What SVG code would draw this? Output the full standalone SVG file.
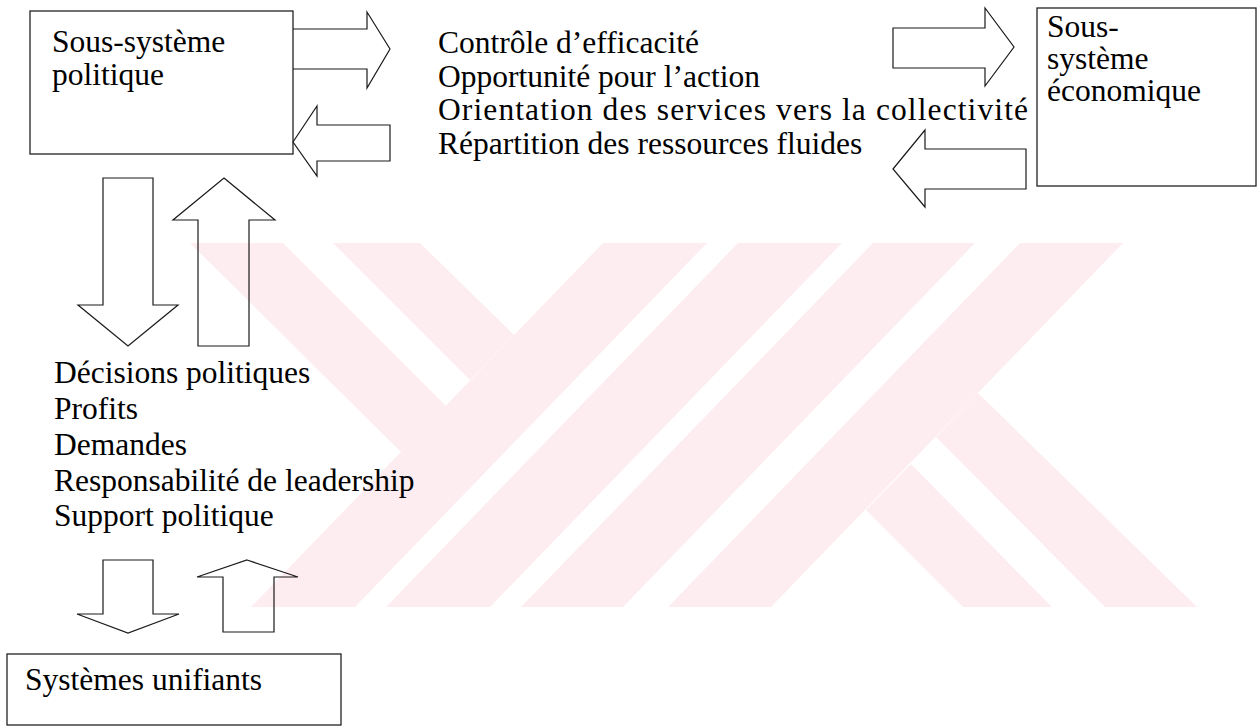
<svg xmlns="http://www.w3.org/2000/svg" width="1258" height="727" viewBox="0 0 1258 727" font-family="Liberation Serif, Tinos, Times New Roman, serif">
  <style>
    .box { fill: none; stroke: #222; stroke-width: 1.3; }
    .arrow { fill: none; stroke: #1a1a1a; stroke-width: 1.2; stroke-linejoin: miter; }
    .wm { fill: #fdedf0; stroke: none; }
  </style>

  <rect x="0" y="0" width="1258" height="727" fill="#ffffff"/>

  <g id="emblem">
    <polygon class="wm" points="190,243 283,243 446,406 401,452"/>
    <polygon class="wm" points="333,243 420,243 514,335 470,380"/>
    <polygon class="wm" points="603,243 707,243 355,607 251,607"/>
    <polygon class="wm" points="738,243 842,243 490,607 386,607"/>
    <polygon class="wm" points="873,243 975,243 623,607 521,607"/>
    <polygon class="wm" points="1020,243 1123,243 771,607 668,607"/>
    <polygon class="wm" points="978,393 1197,607 1105,607 936,437"/>
    <polygon class="wm" points="911,464 1052,607 963,607 866,510"/>
  </g>

  <g id="connectors">
    <path class="arrow" d="M293,29 H367 V12 L390,49 L367,88 V69 H293"/>
    <path class="arrow" d="M293,142 L317,106 V125 H390 V161 H317 V176 Z"/>
    <path class="arrow" d="M893,28 H985 V8 L1014,47 L985,86 V68 H893 Z"/>
    <path class="arrow" d="M893,169 L925,130 V149 H1026 V189 H925 V207 Z"/>
    <path class="arrow" d="M103,178 H153 V305 H178 L128,346 L78,305 H103 Z"/>
    <path class="arrow" d="M224,178 L275,220 H249 V346 H198 V220 H173 Z"/>
    <path class="arrow" d="M103,560 H153 V614 H179 L128,633 L77,614 H103 Z"/>
    <path class="arrow" d="M247,560 L298,577 H274 V632 H223 V577 H197 Z"/>
  </g>

  <g id="node-politique">
    <rect class="box" x="30" y="11" width="263" height="143"/>
    <text font-family="Liberation Serif, Tinos, Times New Roman, serif" font-size="31.5" x="52" y="52">Sous-système</text>
    <text font-family="Liberation Serif, Tinos, Times New Roman, serif" font-size="31.5" x="52" y="85">politique</text>
  </g>

  <g id="node-economique">
    <rect class="box" x="1037" y="8" width="219" height="178"/>
    <text font-family="Liberation Serif, Tinos, Times New Roman, serif" font-size="31.5" x="1047" y="37">Sous-</text>
    <text font-family="Liberation Serif, Tinos, Times New Roman, serif" font-size="31.5" x="1047" y="69">système</text>
    <text font-family="Liberation Serif, Tinos, Times New Roman, serif" font-size="31.5" x="1047" y="101">économique</text>
  </g>

  <g id="node-unifiants">
    <rect class="box" x="7" y="654" width="334" height="71"/>
    <text font-family="Liberation Serif, Tinos, Times New Roman, serif" font-size="31.5" x="25" y="690">Systèmes unifiants</text>
  </g>

  <g id="exchanges-economique">
    <text font-family="Liberation Serif, Tinos, Times New Roman, serif" font-size="31.5" x="438" y="53">Contrôle d’efficacité</text>
    <text font-family="Liberation Serif, Tinos, Times New Roman, serif" font-size="31.5" x="438" y="87">Opportunité pour l’action</text>
    <text font-family="Liberation Serif, Tinos, Times New Roman, serif" font-size="31.5" x="438" y="120" textLength="590" lengthAdjust="spacing">Orientation des services vers la collectivité</text>
    <text font-family="Liberation Serif, Tinos, Times New Roman, serif" font-size="31.5" x="438" y="154">Répartition des ressources fluides</text>
  </g>

  <g id="exchanges-unifiants">
    <text font-family="Liberation Serif, Tinos, Times New Roman, serif" font-size="31.5" x="54" y="383">Décisions politiques</text>
    <text font-family="Liberation Serif, Tinos, Times New Roman, serif" font-size="31.5" x="54" y="419">Profits</text>
    <text font-family="Liberation Serif, Tinos, Times New Roman, serif" font-size="31.5" x="54" y="455">Demandes</text>
    <text font-family="Liberation Serif, Tinos, Times New Roman, serif" font-size="31.5" x="54" y="491">Responsabilité de leadership</text>
    <text font-family="Liberation Serif, Tinos, Times New Roman, serif" font-size="31.5" x="54" y="526">Support politique</text>
  </g>
</svg>
